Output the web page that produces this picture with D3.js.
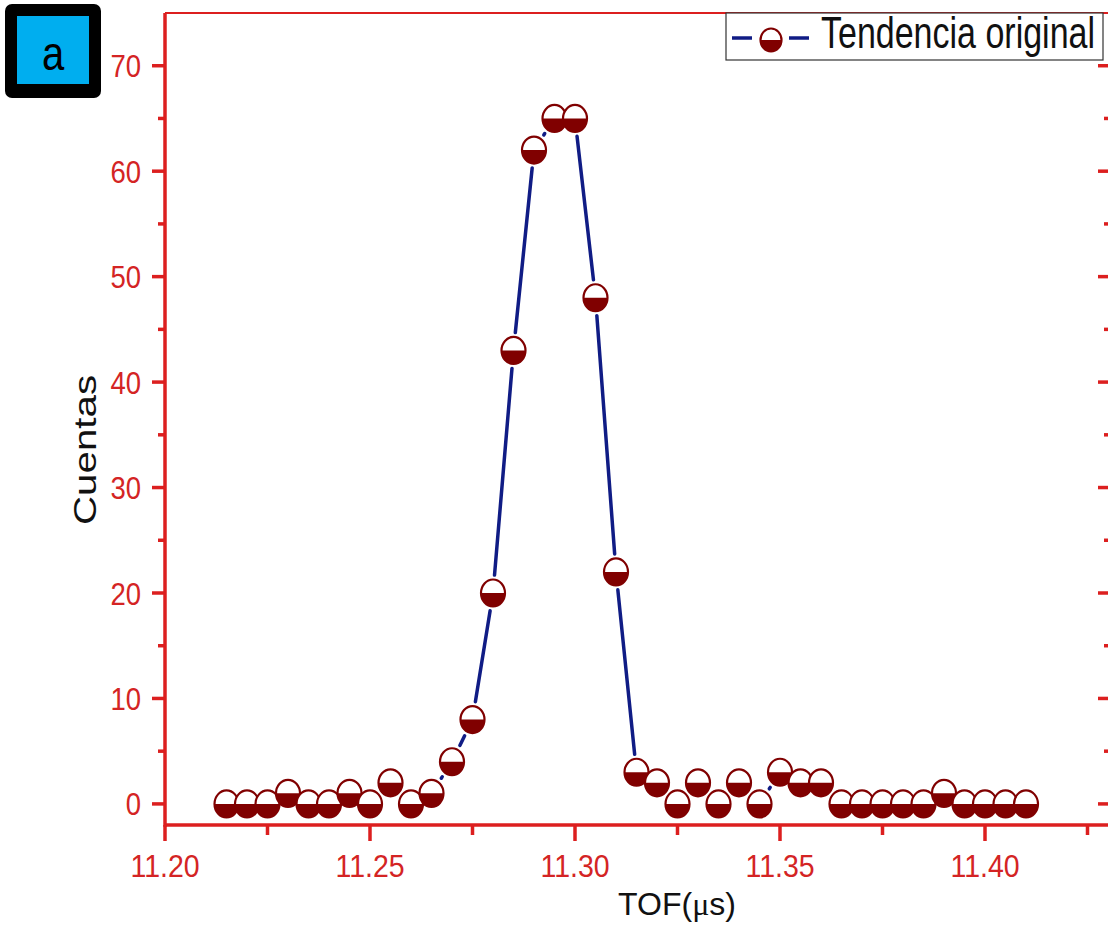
<!DOCTYPE html>
<html>
<head>
<meta charset="utf-8">
<script src="https://cdn.jsdelivr.net/npm/d3@7"></script>
<style>
  body { margin: 0; background: #fff; }
  svg { display: block; font-family: Arial, "Liberation Sans", sans-serif; }
</style>
</head>
<body>
<div id="chart"></div>
<script>
// TOF bins and counts
const tof = [11.215, 11.22, 11.225, 11.23, 11.235, 11.24, 11.245, 11.25, 11.255, 11.26,
  11.265, 11.27, 11.275, 11.28, 11.285, 11.29, 11.295, 11.30, 11.305, 11.31,
  11.315, 11.32, 11.325, 11.33, 11.335, 11.34, 11.345, 11.35, 11.355, 11.36,
  11.365, 11.37, 11.375, 11.38, 11.385, 11.39, 11.395, 11.40, 11.405, 11.41];
const cuentas = [0, 0, 0, 1, 0, 0, 1, 0, 2, 0,
  1, 4, 8, 20, 43, 62, 65, 65, 48, 22,
  3, 2, 0, 2, 0, 2, 0, 3, 2, 2,
  0, 0, 0, 0, 0, 1, 0, 0, 0, 0];
const xTicks = [11.20, 11.25, 11.30, 11.35, 11.40];
const yTicks = [0, 10, 20, 30, 40, 50, 60, 70];
const seriesName = 'Tendencia original';

const W = 1108, H = 928;
const red = '#dc1f1f', textRed = '#d42424', navy = '#101c85', maroon = '#800000';
const mLeft = 165, mRight = 1112, mTop = 13, mBottom = 825;

const svg = d3.select('#chart').append('svg').attr('width', W).attr('height', H);

const x = d3.scaleLinear().domain([11.20, 11.4305]).range([mLeft, mLeft + 0.2305 * 4100]);
const y = d3.scaleLinear().domain([-2, 75]).range([mBottom, mTop]);

// minor ticks
const xMinor = d3.range(11.225, 11.43, 0.05);
const yMinor = d3.range(5, 75, 10);

// text that is a bit taller than wide, like the source image
function stretchText(g, tx, ty, str, size, sy, anchor, fill) {
  return g.append('text')
    .attr('transform', `translate(${tx},${ty}) scale(1,${sy})`)
    .attr('text-anchor', anchor).attr('font-size', size).attr('fill', fill)
    .text(str);
}

const ax = svg.append('g');
// frame lines
ax.append('line').attr('x1', mLeft).attr('x2', mRight).attr('y1', mBottom).attr('y2', mBottom)
  .attr('stroke', red).attr('stroke-width', 3.5);
ax.append('line').attr('x1', mLeft).attr('x2', mLeft).attr('y1', mTop).attr('y2', mBottom + 1.7)
  .attr('stroke', red).attr('stroke-width', 3.5);
ax.append('line').attr('x1', mLeft).attr('x2', mRight).attr('y1', mTop).attr('y2', mTop)
  .attr('stroke', red).attr('stroke-width', 2);
ax.append('line').attr('x1', mRight).attr('x2', mRight).attr('y1', mTop).attr('y2', mBottom)
  .attr('stroke', red).attr('stroke-width', 3.5);

// x ticks
ax.selectAll('.xt').data(xTicks).join('line')
  .attr('x1', d => x(d)).attr('x2', d => x(d)).attr('y1', mBottom).attr('y2', mBottom + 16)
  .attr('stroke', red).attr('stroke-width', 3.5);
ax.selectAll('.xm').data(xMinor).join('line')
  .attr('x1', d => x(d)).attr('x2', d => x(d)).attr('y1', mBottom).attr('y2', mBottom + 10)
  .attr('stroke', red).attr('stroke-width', 3.5);
xTicks.forEach(d => stretchText(ax, x(d), 877, d3.format('.2f')(d), 28.5, 1.13, 'middle', textRed));

// y ticks, left outward and right inward
ax.selectAll('.yt').data(yTicks).join('line')
  .attr('x1', mLeft - 13).attr('x2', mLeft).attr('y1', d => y(d)).attr('y2', d => y(d))
  .attr('stroke', red).attr('stroke-width', 3.5);
ax.selectAll('.ym').data(yMinor).join('line')
  .attr('x1', mLeft - 7).attr('x2', mLeft).attr('y1', d => y(d)).attr('y2', d => y(d))
  .attr('stroke', red).attr('stroke-width', 3.5);
ax.selectAll('.yr').data(yTicks).join('line')
  .attr('x1', mRight - 14).attr('x2', mRight).attr('y1', d => y(d)).attr('y2', d => y(d))
  .attr('stroke', red).attr('stroke-width', 3.5);
ax.selectAll('.yrm').data(yMinor).join('line')
  .attr('x1', mRight - 8).attr('x2', mRight).attr('y1', d => y(d)).attr('y2', d => y(d))
  .attr('stroke', red).attr('stroke-width', 3.5);
yTicks.forEach(d => stretchText(ax, 141, y(d) + 11.5, d, 27.5, 1.16, 'end', textRed));

// axis titles
const xt = svg.append('text').attr('x', 677).attr('y', 915).attr('text-anchor', 'middle')
  .attr('font-size', 32).attr('fill', '#111');
xt.append('tspan').text('TOF(');
xt.append('tspan').attr('font-family', '"Liberation Serif", serif').text('\u03bc');
xt.append('tspan').text('s)');
svg.append('text').attr('transform', 'translate(96,450) rotate(-90) scale(1.3,1)')
  .attr('text-anchor', 'middle').attr('font-size', 31).attr('fill', '#111').text('Cuentas');

// data
const pts = tof.map((t, i) => ({ px: x(t), py: y(cuentas[i]) }));
const rx = 12, ry = 13.5, cut = 18;

// line segments, cut back around the markers
const segs = [];
for (let i = 0; i < pts.length - 1; i++) {
  const a = pts[i], b = pts[i + 1];
  const dx = b.px - a.px, dy = b.py - a.py, len = Math.hypot(dx, dy);
  if (len > 2 * cut) {
    const ux = dx / len, uy = dy / len;
    segs.push({ x1: a.px + ux * cut, y1: a.py + uy * cut, x2: b.px - ux * cut, y2: b.py - uy * cut });
  }
}
svg.append('g').selectAll('line').data(segs).join('line')
  .attr('x1', d => d.x1).attr('y1', d => d.y1).attr('x2', d => d.x2).attr('y2', d => d.y2)
  .attr('stroke', navy).attr('stroke-width', 3.5).attr('stroke-linecap', 'round');

// half-filled marker, top white and bottom dark red
function marker(g, cx, cy, mx, my) {
  g.append('ellipse').attr('cx', cx).attr('cy', cy).attr('rx', mx).attr('ry', my).attr('fill', '#fff');
  g.append('path')
    .attr('d', `M${cx - mx},${cy} A${mx},${my} 0 0 0 ${cx + mx},${cy} Z`)
    .attr('fill', maroon);
  g.append('ellipse').attr('cx', cx).attr('cy', cy).attr('rx', mx).attr('ry', my)
    .attr('fill', 'none').attr('stroke', maroon).attr('stroke-width', 2.2);
}
const mg = svg.append('g');
pts.forEach(p => marker(mg, p.px, p.py, rx, ry));

// legend
const lg = svg.append('g');
lg.append('rect').attr('x', 726).attr('y', 13).attr('width', 377).attr('height', 47)
  .attr('fill', '#fff').attr('stroke', '#333').attr('stroke-width', 1.2);
lg.append('line').attr('x1', 732).attr('x2', 752).attr('y1', 38).attr('y2', 38)
  .attr('stroke', navy).attr('stroke-width', 3.5);
lg.append('line').attr('x1', 789).attr('x2', 809).attr('y1', 38).attr('y2', 38)
  .attr('stroke', navy).attr('stroke-width', 3.5);
marker(lg, 771, 40, 10.5, 11.5);
stretchText(lg, 821, 48, seriesName, 34, 1.3, 'start', '#111');

// panel label
const pl = svg.append('g');
pl.append('rect').attr('x', 5).attr('y', 4).attr('width', 96).attr('height', 94)
  .attr('rx', 7).attr('fill', '#000');
pl.append('rect').attr('x', 17).attr('y', 16).attr('width', 72).attr('height', 68)
  .attr('fill', '#00aeef');
stretchText(pl, 53, 70, 'a', 40, 1.2, 'middle', '#000');
</script>
</body>
</html>
